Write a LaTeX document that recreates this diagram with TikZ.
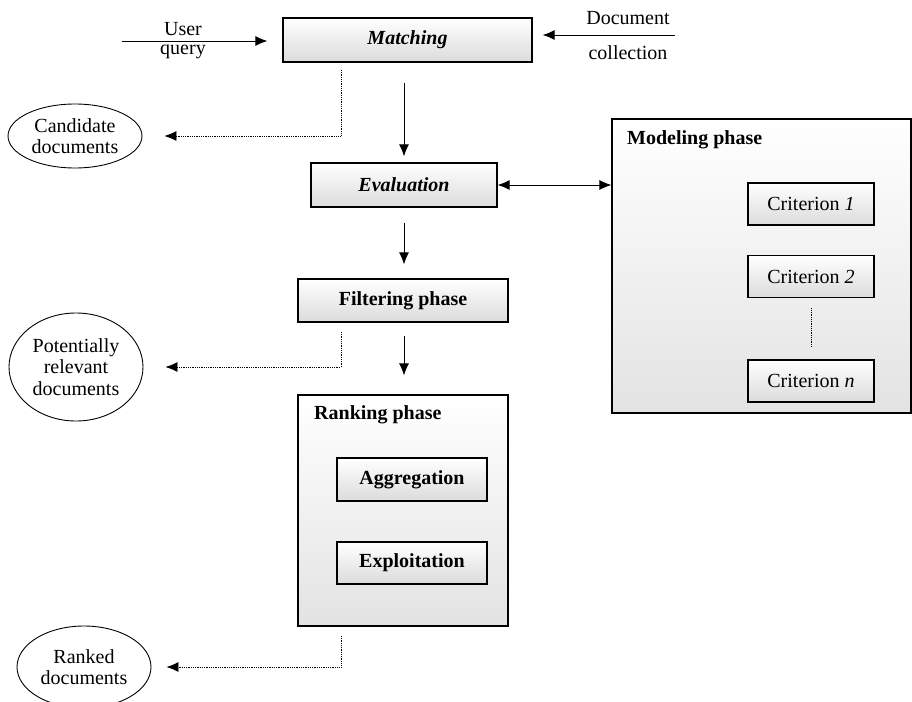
\documentclass[tikz,border=0pt]{standalone}
\usepackage{fontspec}
\setmainfont{Liberation Serif}
\usetikzlibrary{arrows.meta,shapes.geometric}
\tikzset{
  box/.style={draw, line width=1.3pt, rectangle, inner sep=0pt, top color=white, bottom color=black!14},
  phasebox/.style={box, line width=1.1pt, bottom color=black!11},
  docs/.style={draw, line width=0.9pt, ellipse, inner sep=0pt, align=center, minimum width=134pt},
  flow/.style={line width=0.9pt, -{Latex[length=12pt,width=10pt]}},
  result/.style={line width=0.8pt, densely dotted, -{Latex[length=12pt,width=10pt]}},
  lbl/.style={inner sep=0pt},
}
\begin{document}
\begin{tikzpicture}[x=1pt, y=-1pt, every node/.style={font=\fontsize{20}{21.5}\selectfont}]
        \useasboundingbox (0,0) rectangle (912,701);
        \node[box, minimum width=249pt, minimum height=44pt] (match) at (407.5,40) {\textbf{\textit{Matching}}};
        \node[box, minimum width=186pt, minimum height=44pt] (eval) at (404,185) {\textbf{\textit{Evaluation}}};
        \node[box, minimum width=210pt, minimum height=43pt] (filter) at (403,300.5) {\textbf{Filtering phase}};
        \node[phasebox, minimum width=210pt, minimum height=231pt] (rank) at (403,510.5) {};
        \node[anchor=west, inner sep=0pt] (ranktitle) at (314,415) {\textbf{Ranking phase}};
        \node[box, minimum width=150pt, minimum height=43pt] (aggr) at (412,479.5) {\textbf{Aggregation}};
        \node[box, minimum width=150pt, minimum height=42pt] (expl) at (412,563) {\textbf{Exploitation}};
        \node[phasebox, minimum width=299pt, minimum height=294pt] (model) at (761.5,266) {};
        \node[anchor=west, inner sep=0pt] (modeltitle) at (627,140) {\textbf{Modeling phase}};
        \foreach \name/\y/\lab in {crit1/204/\textit{1}, crit2/276.5/\textit{2}, critn/381/\textit{n}}
        \node[box, minimum width=126pt, minimum height=42pt] (\name) at (811,\y) {Criterion \lab};
        \node[docs, minimum height=64pt] (cand) at (75,136) {Candidate\\documents};
        \node[docs, minimum height=108pt] (pot) at (76,367) {Potentially\\relevant\\documents};
        \node[docs, minimum height=82pt] (ranked) at (84,667) {Ranked\\documents};
        \node[lbl] (uqtop) at (183,29) {User};
        \node[lbl] (uqbot) at (183,52) {query};
        \node[lbl] (dctop) at (628,18) {Document};
        \node[lbl] (dcbot) at (628,53) {collection};
        \coordinate (uq) at (122,41);
        \coordinate (dc) at (675,35);
        \draw[flow, shorten >=15pt] (uq) -- (uq -| match.west);
        \draw[flow, shorten >=10pt] (dc) -- (dc -| match.east);
        \draw[flow, shorten <=20pt, shorten >=6pt] (match.south -| eval.north) -- (eval.north);
        \draw[flow, shorten <=15pt, shorten >=14pt] (eval.south) -- (eval.south |- filter.north);
        \draw[flow, shorten <=13pt, shorten >=19pt] (eval.south |- filter.south) -- (eval.south |- rank.north);
        \draw[flow, {Latex[length=12pt,width=10pt]}-{Latex[length=12pt,width=10pt]}] (eval.east) -- (eval.east -| model.west);
        \draw[line width=0.8pt, densely dotted, shorten <=10pt, shorten >=12pt] (crit2.south) -- (critn.north);
        \coordinate (m1) at (341,70);
        \coordinate (m2) at (341,332);
        \coordinate (m3) at (341,636);
        \draw[result, shorten >=22pt] (m1) |- (cand.east);
        \draw[result, shorten >=22pt] (m2) |- (pot.east);
        \draw[result, shorten >=15pt] (m3) |- (ranked.east);
    \end{tikzpicture}
\end{document}
